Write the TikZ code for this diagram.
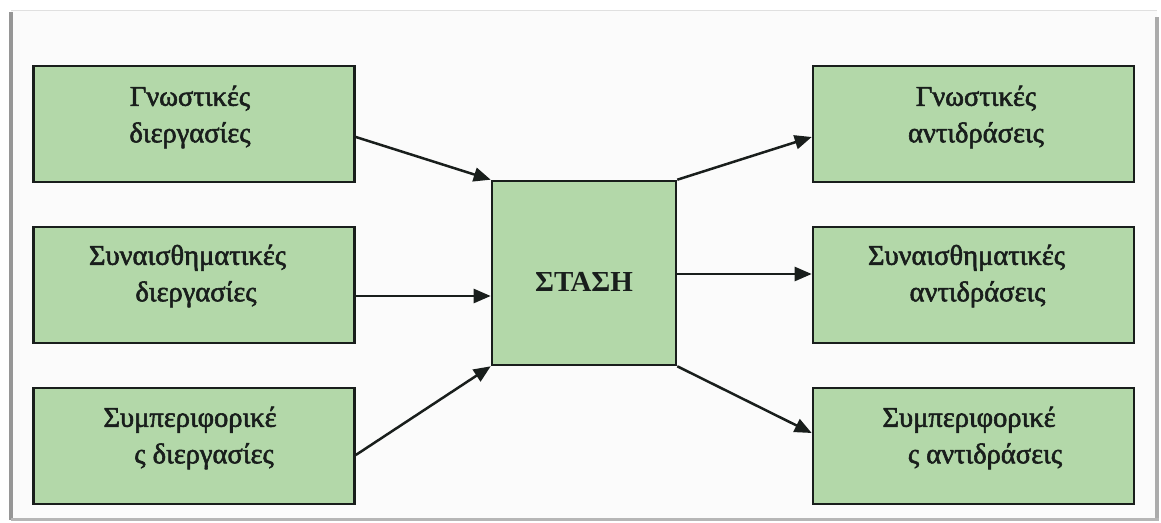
\documentclass[tikz,border=0pt]{standalone}
\usepackage{fontspec}
\setmainfont{Liberation Serif}
\newfontfamily\lblfont[RawFeature={embolden=2}]{Liberation Serif}
\usetikzlibrary{arrows.meta}
\definecolor{boxgreen}{RGB}{179,216,169}
\definecolor{boxline}{RGB}{25,30,28}
\definecolor{framegray}{RGB}{150,150,150}
\definecolor{bgpaper}{RGB}{251,251,251}
\begin{document}
\begin{tikzpicture}[x=1pt,y=-1pt,
  box/.style={draw=boxline,line width=2.6pt,fill=boxgreen,inner sep=0pt,
    minimum width=321pt,minimum height=116pt},
  lbl/.style={font=\lblfont\fontsize{28.5}{36.5}\selectfont,align=center,text=boxline,inner sep=0pt},
  conn/.style={line width=2.5pt,draw=boxline,-{Triangle[length=17pt,width=14pt]}}]
\useasboundingbox (0,0) rectangle (1161,522);
\fill[white] (0,0) rectangle (1161,522);
% frame
\fill[bgpaper] (11,10) rectangle (1157,519);
\draw[black!12,line width=1pt] (11,10) -- (1157,10);
\draw[framegray,line width=4pt] (11,12) -- (11,520);
\draw[framegray!80,line width=4pt] (1157,17) -- (1157,520);
\draw[framegray!70,line width=2.5pt] (11,519.5) -- (1159,519.5);
% boxes
\node[box] (l1) at (194,124) {};
\node[box] (l2) at (194,285) {};
\node[box] (l3) at (194,446) {};
\node[box] (r1) at (973.5,124) {};
\node[box] (r2) at (973.5,285) {};
\node[box] (r3) at (973.5,446) {};
\node[box,minimum width=184pt,minimum height=184pt] (c) at (584,273) {};
% labels
\node[lbl] (tl1) at ([xshift=-4pt,yshift=7pt]l1.center) {Γνωστικές\\διεργασίες};
\node[lbl] (tl2) at ([xshift=-6.5pt,yshift=9pt]l2.center) {Συναισθηματικές\\\hspace*{17pt}διεργασίες};
\node[lbl] (tl3) at ([xshift=-4pt,yshift=8pt]l3.center) {Συμπεριφορικέ\\\hspace*{28pt}ς διεργασίες};
\node[lbl] (tr1) at ([xshift=2.5pt,yshift=7pt]r1.center) {Γνωστικές\\αντιδράσεις};
\node[lbl] (tr2) at ([xshift=-7pt,yshift=9pt]r2.center) {Συναισθηματικές\\\hspace*{22pt}αντιδράσεις};
\node[lbl] (tr3) at ([xshift=-4.5pt,yshift=8pt]r3.center) {Συμπεριφορικέ\\\hspace*{32pt}ς αντιδράσεις};
\node[lbl,font=\rmfamily\bfseries\fontsize{29}{34}\selectfont] (tc) at ([yshift=-9pt]c.center) {ΣΤΑΣΗ};
% connectors
\draw[conn] ([yshift=-13pt]l1.east) -- (c.north west);
\draw[conn] ([yshift=-11pt]l2.east) -- ([yshift=-23pt]c.west);
\draw[conn] ([yshift=-9pt]l3.east) -- (c.south west);
\draw[conn] (c.north east) -- ([yshift=-13pt]r1.west);
\draw[conn] ([yshift=-1pt]c.east) -- ([yshift=11pt]r2.west);
\draw[conn] (c.south east) -- ([yshift=13pt]r3.west);
\end{tikzpicture}
\end{document}
